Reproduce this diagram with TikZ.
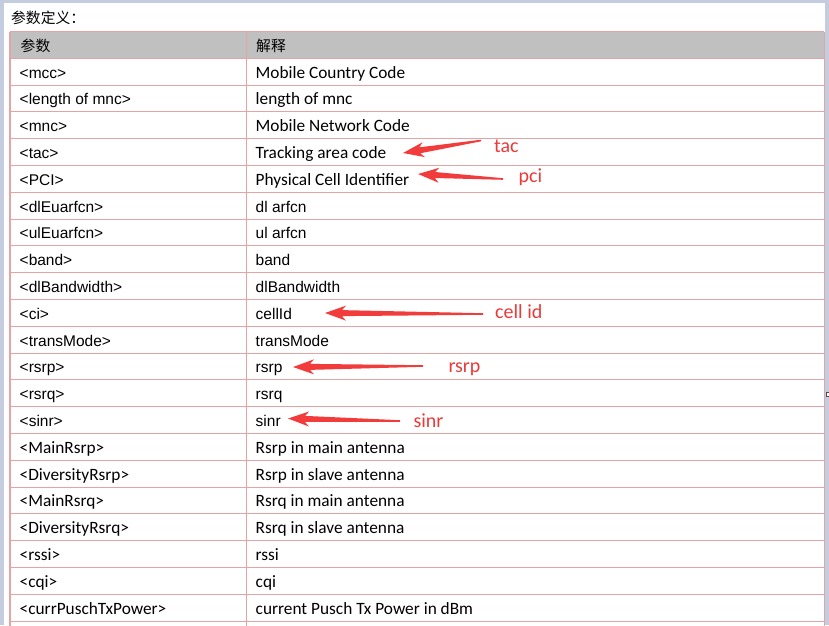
\documentclass[tikz,border=0pt]{standalone}
\usepackage{fontspec}
\setmainfont{Liberation Sans}
\newfontfamily\calfont{Carlito}
\newfontfamily\cjkfont{Noto Sans CJK SC}
\usetikzlibrary{calc}
\definecolor{bgblue}{HTML}{C4CCDF}
\definecolor{gridred}{HTML}{E6A3A3}
\definecolor{headgray}{HTML}{C0C0C0}
\definecolor{arrowred}{HTML}{F23B3B}
\definecolor{labelred}{HTML}{EA3A3A}
\newcommand\ar{\fontsize{15.5}{18}\selectfont}
\newcommand\ca{\calfont\fontsize{17.3}{20}\selectfont}
\newcommand\cj{\cjkfont\fontsize{14.8}{17}\selectfont}
\newcommand\lb{\calfont\fontsize{20}{24}\selectfont}
\newcommand\redarrow[2]{%
  \coordinate (hh) at ($(#1)!21pt!(#2)$);
  \coordinate (nn) at ($(#1)!17pt!(#2)$);
  \fill[arrowred] (#1) -- ($(hh)!7.5pt!90:(#2)$) -- ($(nn)!3pt!90:(#2)$)
    -- ($(#2)!0.8pt!-90:(#1)$) -- ($(#2)!0.8pt!90:(#1)$)
    -- ($(nn)!3pt!-90:(#2)$) -- ($(hh)!7.5pt!-90:(#2)$) -- cycle;}
\begin{document}
\begin{tikzpicture}[x=1pt,y=-1pt,
  cell/.style={anchor=base west,inner sep=0pt,text=black},
  lbl/.style={anchor=base west,inner sep=0pt,text=labelred,font=\lb},
  grid/.style={draw=gridred,line width=1.1pt}]
\useasboundingbox (0,0) rectangle (829,625);
\fill[white] (0,0) rectangle (829,625);
% window background strips
\fill[bgblue] (0,0) rectangle (829,2.8);
\fill[bgblue] (0,0) rectangle (3.5,625);
\fill[bgblue] (825.3,0) rectangle (829,625);
\filldraw[fill=white,draw=black!70,line width=0.8pt] (826.3,392.8) rectangle (831,396.3);
% title
\node[cell,font=\cj] (title) at (11,23.8) {参数定义：};
% header
\fill[headgray] (10,31.7) rectangle (824.3,58.3);
\node[cell,font=\cj] (h1) at (20.5,51.3) {参数};
\node[cell,font=\cj] (h2) at (256,51.3) {解释};
% grid
\foreach \k in {0,...,21} {
  \pgfmathsetmacro\yy{58.3+26.8*\k}
  \draw[grid] (10,\yy) -- (824.3,\yy);
}
\draw[grid] (10,31.7) -- (824.3,31.7);
\draw[grid] (10,31.7) -- (10,626);
\draw[grid] (246.5,31.7) -- (246.5,626);
\draw[grid] (824.3,31.7) -- (824.3,626);
% rows
\foreach \i/\l/\r/\fl/\fr in {
  1/{<mcc>}/{Mobile Country Code}/\ar/\ca,
  2/{<length of mnc>}/{length of mnc}/\ar/\ca,
  3/{<mnc>}/{Mobile Network Code}/\ar/\ca,
  4/{<tac>}/{Tracking area code}/\ar/\ca,
  5/{<PCI>}/{Physical Cell Identifier}/\ar/\ca,
  6/{<dlEuarfcn>}/{dl arfcn}/\ar/\ar,
  7/{<ulEuarfcn>}/{ul arfcn}/\ar/\ar,
  8/{<band>}/{band}/\ar/\ar,
  9/{<dlBandwidth>}/{dlBandwidth}/\ar/\ar,
  10/{<ci>}/{cellId}/\ar/\ar,
  11/{<transMode>}/{transMode}/\ar/\ar,
  12/{<rsrp>}/{rsrp}/\ar/\ar,
  13/{<rsrq>}/{rsrq}/\ar/\ar,
  14/{<sinr>}/{sinr}/\ar/\ar,
  15/{<MainRsrp>}/{Rsrp in main antenna}/\ca/\ca,
  16/{<DiversityRsrp>}/{Rsrp in slave antenna}/\ca/\ca,
  17/{<MainRsrq>}/{Rsrq in main antenna}/\ca/\ca,
  18/{<DiversityRsrq>}/{Rsrq in slave antenna}/\ca/\ca,
  19/{<rssi>}/{rssi}/\ca/\ca,
  20/{<cqi>}/{cqi}/\ca/\ca,
  21/{<currPuschTxPower>}/{current Pusch Tx Power in dBm}/\ca/\ca} {
  \pgfmathsetmacro\yb{58.3+26.8*(\i-1)+19.8}
  \node[cell,font=\fl] (l\i) at (19.5,\yb) {\l};
  \node[cell,font=\fr] (r\i) at (255.5,\yb) {\r};
}
% annotations
\node[lbl] (tac) at (494,152.2) {tac};
\node[lbl] (pci) at (518.5,182) {pci};
\node[lbl] (cid) at (495,318.8) {cell id};
\node[lbl] (rsrp) at (448.3,372.2) {rsrp};
\node[lbl] (sinr) at (413.3,427) {sinr};
\coordinate (tacA) at (403,153);  \coordinate (tacB) at (481,140.5);
\coordinate (pciA) at (418,174);  \coordinate (pciB) at (503,179);
\coordinate (cidA) at (325,313);  \coordinate (cidB) at (483,314);
\coordinate (rsrpA) at (293,367); \coordinate (rsrpB) at (423,366);
\coordinate (sinrA) at (288,418.5); \coordinate (sinrB) at (400,421);
\redarrow{tacA}{tacB}
\redarrow{pciA}{pciB}
\redarrow{cidA}{cidB}
\redarrow{rsrpA}{rsrpB}
\redarrow{sinrA}{sinrB}
\end{tikzpicture}
\end{document}
